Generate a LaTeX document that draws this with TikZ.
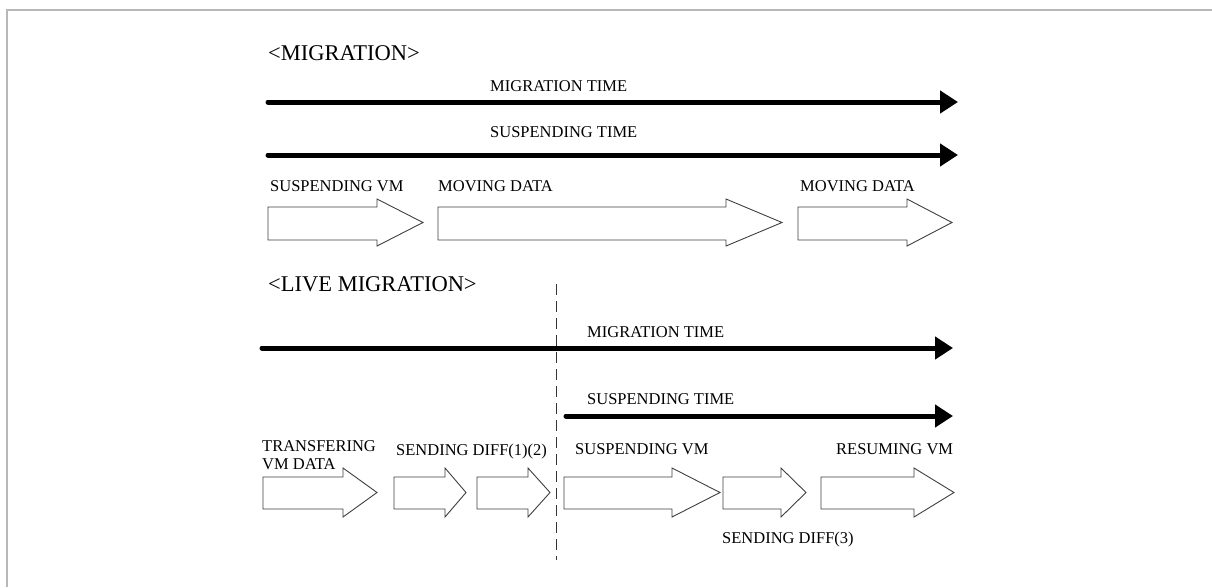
\documentclass[tikz,border=0pt]{standalone}
\usepackage{fontspec}
\setmainfont{Liberation Serif}
\usetikzlibrary{arrows.meta}
\tikzset{
  heading/.style={anchor=west,inner sep=0pt,font=\fontsize{22.5}{26}\selectfont},
  lbl/.style={anchor=west,inner sep=0pt,font=\fontsize{16.5}{18}\selectfont},
  timeline/.style={line width=5pt,line cap=round,-{Triangle[length=18pt,width=22pt]}},
  blockarrow/.style={draw=black!75,line width=0.9pt,fill=white,line join=miter},
  frameline/.style={draw=black!28,line width=2pt},
  divider/.style={draw=black!80,line width=0.8pt,dash pattern=on 11pt off 6pt}
}
\newcommand\blockarr[7]{%
  \draw[blockarrow] (#1,#5) -- (#2,#5) -- (#2,#4) -- (#3,{(#4+#7)/2}) -- (#2,#7) -- (#2,#6) -- (#1,#6) -- cycle;}
\begin{document}
\begin{tikzpicture}[x=1pt,y=-1pt]
\useasboundingbox (0,0) rectangle (1212,587);
\fill[white] (0,0) rectangle (1212,587);
% frame
\draw[frameline] (7,587) -- (7,10) -- (1212,10);

% ---- MIGRATION ----
\node[heading] (h1) at (268,53) {<MIGRATION>};
\node[lbl] (mt1) at (490,86) {MIGRATION TIME};
\coordinate (a1s) at (268,102); \coordinate (a1e) at (958,102);
\draw[timeline] (a1s) -- (a1e);
\node[lbl] (st1) at (490,132) {SUSPENDING TIME};
\coordinate (a2s) at (268,155); \coordinate (a2e) at (958,155);
\draw[timeline] (a2s) -- (a2e);
\node[lbl] (sv1) at (270,186) {SUSPENDING VM};
\node[lbl] (md1) at (438,186) {MOVING DATA};
\node[lbl] (md2) at (800,186) {MOVING DATA};
\blockarr{268}{377}{423}{199}{207}{240}{246}
\blockarr{438}{726}{782}{199}{207}{240}{246}
\blockarr{798}{907}{952}{199}{207}{240}{246}

% ---- LIVE MIGRATION ----
\node[heading] (h2) at (268,284) {<LIVE MIGRATION>};
\coordinate (dtop) at (556,284); \coordinate (dbot) at (556,560);
\draw[divider] (dtop) -- (dbot);
\node[lbl] (mt2) at (587,332) {MIGRATION TIME};
\coordinate (a3s) at (262,348); \coordinate (a3e) at (953,348);
\draw[timeline] (a3s) -- (a3e);
\node[lbl] (st2) at (587,399) {SUSPENDING TIME};
\coordinate (a4s) at (566,416); \coordinate (a4e) at (953,416);
\draw[timeline] (a4s) -- (a4e);
\node[lbl,align=left] (tv) at (262,455) {TRANSFERING\\VM DATA};
\node[lbl] (sd12) at (396,452) {SENDING DIFF(1)(2)};
\node[lbl] (sv2) at (575,449) {SUSPENDING VM};
\node[lbl] (rv) at (836,449) {RESUMING VM};
\node[lbl] (sd3) at (722,540) {SENDING DIFF(3)};
\blockarr{263}{343}{377}{468}{477}{509}{517}
\blockarr{394}{445}{466}{468}{477}{509}{517}
\blockarr{477}{528}{550}{468}{477}{509}{517}
\blockarr{564}{672}{720}{468}{477}{509}{517}
\blockarr{723}{781}{806}{468}{477}{509}{517}
\blockarr{821}{914}{954}{468}{477}{509}{517}
\end{tikzpicture}
\end{document}
